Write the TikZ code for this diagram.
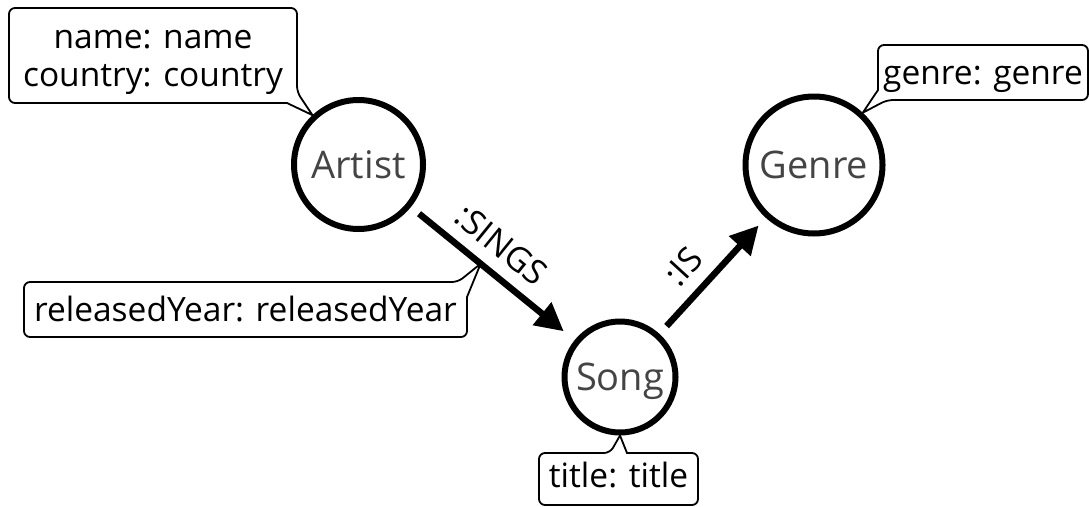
\documentclass[tikz,border=0pt]{standalone}
\usepackage{fontspec}
\setmainfont{Open Sans}
\usetikzlibrary{arrows.meta,calc}
\definecolor{labelgray}{RGB}{68,68,68}
\tikzset{
  entity/.style={circle, draw, line width=6pt, inner sep=0pt, text=labelgray,
    font=\fontsize{38}{44}\selectfont, text height=27pt, text depth=0pt},
  propbox/.style={inner sep=0pt, outer sep=0pt, align=center,
    font=\fontsize{33.5}{38}\selectfont, text height=24pt, text depth=0pt},
  outline/.style={draw, line width=1.8pt, line join=miter},
  rel/.style={line width=6.5pt, -{Triangle[length=28pt,width=28pt]}},
  rellabel/.style={sloped, above=12pt, inner sep=0pt, font=\fontsize{34}{38}\selectfont}
}
\begin{document}
\begin{tikzpicture}[x=1pt,y=-1pt]
\useasboundingbox (0,0) rectangle (1089,506);

% entities
\node[entity, minimum size=129pt] (artist) at (358.5,164.5) {Artist};
\node[entity, minimum size=137pt] (genre)  at (814,165)     {Genre};
\node[entity, minimum size=111pt] (song)   at (620,377)     {Song};

% relationships
\draw[rel, shorten <=10.5pt, shorten >=14pt] (artist) --
  node[rellabel, pos=0.445] {:SINGS} coordinate[pos=0.426] (singsTip) (song);
\draw[rel, shorten <=10.5pt, shorten >=10.5pt] (song) --
  node[rellabel, pos=0.417] {:IS} (genre);

% property boxes
\node[propbox, minimum width=288pt, minimum height=95pt, text height=62pt] (artistProps) at (153,55.5)
  {\begin{tabular}[b]{@{}c@{}}name: name\\country: country\end{tabular}};
\node[propbox, minimum width=210pt, minimum height=55pt] (genreProps) at (983,72.5) {genre: genre};
\node[propbox, minimum width=443pt, minimum height=55pt] (singsProps) at (245.5,309.5) {releasedYear: releasedYear};
\node[propbox, minimum width=159pt, minimum height=52pt, text height=16pt] (songProps) at (618.5,479) {title: title};

% callout outlines with their pointers
\draw[outline] (artistProps.north) [rounded corners=6pt] -- (artistProps.north east)
  -- ([yshift=11pt]artistProps.south east) [sharp corners] -- (artist.133)
  -- ([xshift=-10pt]artistProps.south east) [rounded corners=6pt]
  -- (artistProps.south west) -- (artistProps.north west) -- cycle;
\draw[outline] (genreProps.north) [rounded corners=6pt] -- (genreProps.north east)
  -- (genreProps.south east) -- ([xshift=9pt]genreProps.south west) [sharp corners]
  -- (genre.47) -- ([yshift=10pt]genreProps.south west) [rounded corners=6pt]
  -- (genreProps.north west) -- cycle;
\draw[outline] (singsProps.south) [rounded corners=6pt] -- (singsProps.south west)
  -- (singsProps.north west) -- ([xshift=-9pt]singsProps.north east) [sharp corners]
  -- (singsTip) -- ([yshift=-15pt]singsProps.north east) [rounded corners=6pt]
  -- (singsProps.south east) -- cycle;
\draw[outline] (songProps.south) [rounded corners=6pt] -- (songProps.south west)
  -- (songProps.north west) -- ([xshift=-8.5pt]songProps.north) [sharp corners]
  -- (song.270) -- ([xshift=8.5pt]songProps.north) [rounded corners=6pt]
  -- (songProps.north east) -- (songProps.south east) -- cycle;
\end{tikzpicture}
\end{document}
